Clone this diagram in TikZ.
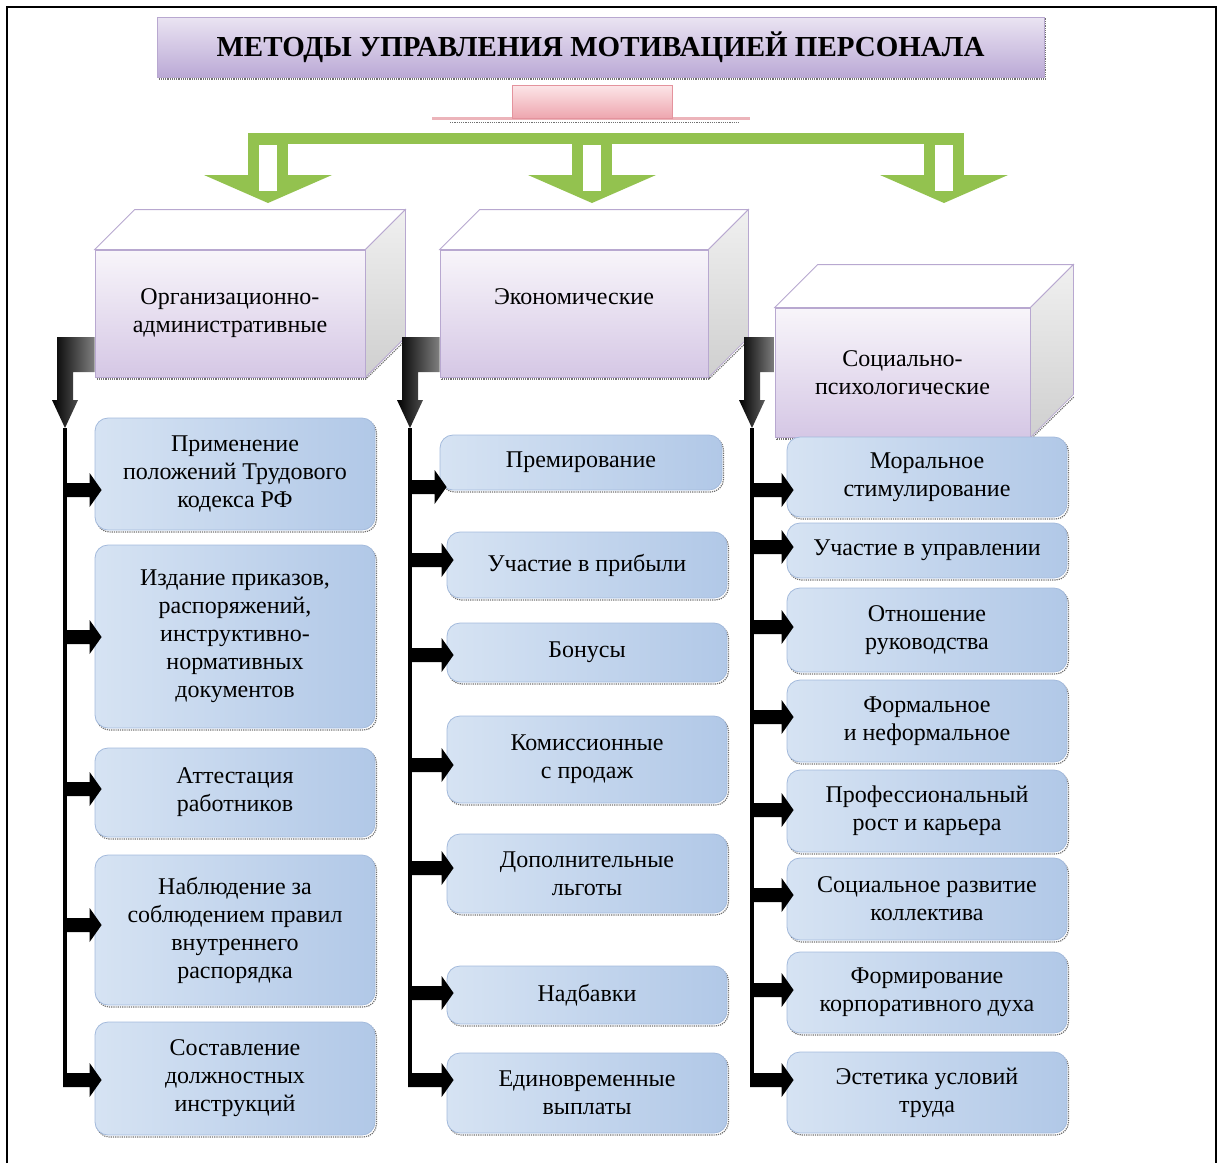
\documentclass[tikz,border=0pt]{standalone}
\usepackage{fontspec}
\setmainfont{Liberation Serif}
\usetikzlibrary{calc}
\definecolor{grn}{HTML}{93C24F}
\definecolor{itemL}{HTML}{D6E3F3}
\definecolor{itemM}{HTML}{F3F6FB}
\definecolor{itemR}{HTML}{B1C8E7}
\definecolor{itemB}{HTML}{A3BADC}
\definecolor{catT}{HTML}{F8F5FA}
\definecolor{catB}{HTML}{D5C7E5}
\definecolor{catD}{HTML}{B8A8D0}
\definecolor{titT}{HTML}{EAE4F2}
\definecolor{titB}{HTML}{BBA9D6}
\definecolor{pinkT}{HTML}{FCE6E8}
\definecolor{pinkB}{HTML}{EEA6AF}
\definecolor{pinkD}{HTML}{E4939D}
\definecolor{sideT}{HTML}{F0F0F0}
\definecolor{sideB}{HTML}{CFCFCF}
\definecolor{shdw}{HTML}{707070}
\tikzset{
 dotshadow/.style={preaction={draw=shdw, densely dotted, line width=1.2pt, transform canvas={shift={(1.5pt,-2pt)}}}},
 itembox/.style={dotshadow, draw=itemB, line width=0.8pt, rounded corners=13pt, left color=itemL, middle color=itemM, right color=itemR, minimum width=280pt, align=center, font=\fontsize{24}{28}\selectfont, inner sep=3pt},
 catbox/.style={dotshadow, draw=catD, line width=0.8pt, top color=catT, bottom color=catB, align=center, font=\fontsize{24}{28}\selectfont, inner sep=3pt},
 topface/.style={fill=white, draw=catD, line width=0.8pt},
 sideface/.style={draw=catD, line width=0.8pt, top color=sideT, bottom color=sideB},
 titlebox/.style={dotshadow, draw=catD, line width=0.8pt, top color=titT, bottom color=titB, minimum width=887pt, minimum height=60pt, font=\bfseries\fontsize{29}{32}\selectfont},
 blackshade/.style={left color=black, right color=black!50},
 branchshade/.style={top color=black, middle color=black!50, bottom color=black},
 colline/.style={line width=4pt, black},
}
\newcommand\cuboidfaces[2]{%
 \path[topface] (#1.north west) -- (#1.north east) -- ($(#1.north east)+(#2,-#2)$) -- ($(#1.north west)+(#2,-#2)$) -- cycle;
 \path[sideface] (#1.north east) -- ($(#1.north east)+(#2,-#2)$) -- ($(#1.south east)+(#2,-#2)$) -- (#1.south east) -- cycle;
 \draw[shdw, densely dotted, line width=1.2pt] ($(#1.south east)+(0,2)$) -- ($(#1.south east)+(#2,-#2)+(1,2)$);
}
\newcommand\bracketarrow[2]{%
 \coordinate (bkT) at (#1.west |- 0,337);
 \coordinate (bkB) at (#1.west |- 0,372);
 \path[blackshade] (bkT) -- ($(#2)+(-8,-91)$) -- ($(#2)+(-8,-28)$) -- ($(#2)+(-13,-28)$) -- (#2) -- ($(#2)+(13,-28)$) -- ($(#2)+(8,-28)$) -- ($(#2)+(8,-56)$) -- (bkB) -- cycle;
}
\newcommand\branch[3]{%
 \coordinate (bw) at (#1.west |- 0,#3);
 \coordinate (bl) at (#2 |- bw);
 \path[branchshade] ($(bl)+(-2,-7)$) -- ($(bw)+(-5,-7)$) -- ($(bw)+(-5,-17)$) -- ($(bw)+(7,0)$) -- ($(bw)+(-5,17)$) -- ($(bw)+(-5,7)$) -- ($(bl)+(-2,7)$) -- cycle;
}
\begin{document}
\begin{tikzpicture}[x=1pt,y=-1pt]
\useasboundingbox (0,0) rectangle (1218,1163);
\draw[line width=2pt] (7,1163) -- (7,7) -- (1216,7) -- (1216,1163);

% title
\node[titlebox] (title) at (600.5,47) {МЕТОДЫ УПРАВЛЕНИЯ МОТИВАЦИЕЙ ПЕРСОНАЛА};

% pink source block
\fill[pinkD!70] (432,116.5) rectangle (750,119.5);
\draw[shdw, densely dotted, line width=1.2pt] (450,122.5) -- (740,122.5);
\node[draw=pinkD, top color=pinkT, bottom color=pinkB, minimum width=160pt, minimum height=33pt, inner sep=0pt] (src) at (592,101.5) {};

% green distribution arrows
\coordinate (gA) at (268,143);
\coordinate (gB) at (592,143);
\coordinate (gC) at (944,143);
\fill[grn] (248,133) rectangle (964,144);
\foreach \c in {gA,gB,gC}{
 \fill[grn] ($(\c)+(-20,0)$) rectangle ($(\c)+(20,33)$);
 \fill[grn] ($(\c)+(-64,32)$) -- ($(\c)+(64,32)$) -- ($(\c)+(0,60)$) -- cycle;
 \fill[white] ($(\c)+(-9,2)$) rectangle ($(\c)+(9,48)$);
}

% category boxes
\node[catbox, minimum width=270pt, minimum height=127pt] (A) at (230,313.5) {Организационно-\\административные};
\node[catbox, minimum width=268pt, minimum height=127pt, text depth=34pt] (B) at (574,313.5) {Экономические};
\node[catbox, minimum width=255pt, minimum height=129pt] (C) at (902.5,372.5) {Социально-\\психологические};
\cuboidfaces{A}{40}
\cuboidfaces{B}{40}
\cuboidfaces{C}{43}

% column lines
\coordinate (colA) at (65,428);
\coordinate (colB) at (410,428);
\coordinate (colC) at (752,428);
\coordinate (endA) at (65,1087);
\coordinate (endB) at (410,1087);
\coordinate (endC) at (752,1087);
\draw[colline] (colA) -- (endA);
\draw[colline] (colB) -- (endB);
\draw[colline] (colC) -- (endC);
\bracketarrow{A}{colA}
\bracketarrow{B}{colB}
\bracketarrow{C}{colC}

% left column items
\node[itembox, minimum height=112pt] (L1) at (235,474) {Применение\\положений Трудового\\кодекса РФ};
\node[itembox, minimum height=183pt] (L2) at (235,636.5) {Издание приказов,\\распоряжений,\\инструктивно-\\нормативных\\документов};
\node[itembox, minimum height=89pt] (L3) at (235,792.5) {Аттестация\\работников};
\node[itembox, minimum height=150pt] (L4) at (235,930) {Наблюдение за\\соблюдением правил\\внутреннего\\распорядка};
\node[itembox, minimum height=113pt] (L5) at (235,1078.5) {Составление\\должностных\\инструкций};

% middle column items
\node[itembox, minimum width=282pt, minimum height=55pt] (M1) at (581,462.5) {Премирование};
\node[itembox, minimum height=66pt] (M2) at (587,565) {Участие в прибыли};
\node[itembox, minimum height=59pt] (M3) at (587,652.5) {Бонусы};
\node[itembox, minimum height=87pt] (M4) at (587,759.5) {Комиссионные\\с продаж};
\node[itembox, minimum height=79pt] (M5) at (587,873.5) {Дополнительные\\льготы};
\node[itembox, minimum height=58pt] (M6) at (587,995) {Надбавки};
\node[itembox, minimum height=80pt] (M7) at (587,1093) {Единовременные\\выплаты};

% right column items
\node[itembox, minimum height=80pt] (R1) at (927,477) {Моральное\\стимулирование};
\node[itembox, minimum height=55pt] (R2) at (927,550.5) {Участие в управлении};
\node[itembox, minimum height=84pt] (R3) at (927,630) {Отношение\\руководства};
\node[itembox, minimum height=82pt] (R4) at (927,721) {Формальное\\и неформальное};
\node[itembox, minimum height=82pt] (R5) at (927,811) {Профессиональный\\рост и карьера};
\node[itembox, minimum height=82pt] (R6) at (927,899) {Социальное развитие\\коллектива};
\node[itembox, minimum height=81pt] (R7) at (927,992.5) {Формирование\\корпоративного духа};
\node[itembox, minimum height=81pt] (R8) at (927,1092.5) {Эстетика условий\\труда};

% branch arrows
\branch{L1}{colA}{490}
\branch{L2}{colA}{637}
\branch{L3}{colA}{789}
\branch{L4}{colA}{925}
\branch{L5}{colA}{1080}
\branch{M1}{colB}{487}
\branch{M2}{colB}{560}
\branch{M3}{colB}{655}
\branch{M4}{colB}{765}
\branch{M5}{colB}{868}
\branch{M6}{colB}{993}
\branch{M7}{colB}{1080}
\branch{R1}{colC}{490}
\branch{R2}{colC}{547}
\branch{R3}{colC}{627}
\branch{R4}{colC}{717}
\branch{R5}{colC}{810}
\branch{R6}{colC}{895}
\branch{R7}{colC}{990}
\branch{R8}{colC}{1080}
\end{tikzpicture}
\end{document}
